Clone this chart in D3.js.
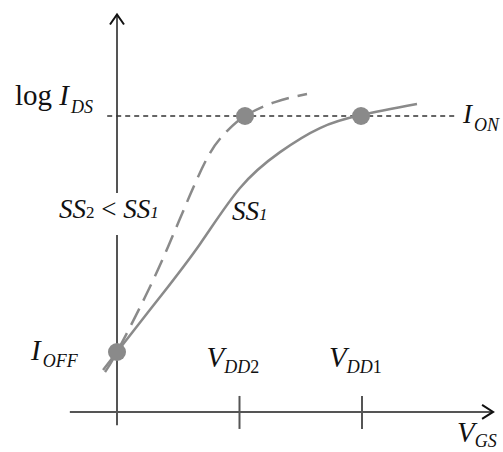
<!DOCTYPE html>
<html>
<head>
<meta charset="utf-8">
<script src="https://cdn.jsdelivr.net/npm/d3@7"></script>
<style>
  html, body { margin: 0; padding: 0; background: #fff; }
  svg { display: block; }
  text { font-family: "Liberation Serif", "Times New Roman", serif; fill: #111; }
</style>
</head>
<body>
<svg id="chart" width="503" height="452"></svg>
<script>
// ---- data (VGS in units where VDD2 = 1, VDD1 = 2; log IDS normalised: IOFF = 0, ION = 1)
const solidVgs   = [-0.114, 0, 0.351, 0.678, 1.004, 1.331, 1.657, 1.992, 2.449];
const solidLogI  = [-0.076, 0, 0.233, 0.458, 0.695, 0.847, 0.949, 1.004, 1.051];
const dashedVgs  = [-0.098, 0, 0.229, 0.416, 0.596, 0.759, 0.898, 1.045, 1.290, 1.551];
const dashedLogI = [-0.085, 0, 0.233, 0.445, 0.665, 0.843, 0.936, 1.000, 1.059, 1.093];
const markerVgs  = [0, 1.045, 1.992];
const markerLogI = [0, 1, 1];
const tickVgs    = [1, 2];
const tickMain   = ["V", "V"];
const tickSub    = ["DD2", "DD1"];

const svg = d3.select("#chart");
const x = d3.scaleLinear().domain([0, 2]).range([117, 362]);
const y = d3.scaleLinear().domain([0, 1]).range([352, 116]);

const axisColor = "#555";
const curveColor = "#8a8a8a";

// y axis
const yTop = y(1.43), yBottom = y(-0.31);
svg.append("line").attr("x1", x(0)).attr("x2", x(0)).attr("y1", yTop).attr("y2", yBottom)
  .attr("stroke", axisColor).attr("stroke-width", 2);
// x axis
const xAxisY = y(-0.254);
const xLeft = x(-0.385), xRight = x(3.07);
svg.append("line").attr("x1", xLeft).attr("x2", xRight).attr("y1", xAxisY).attr("y2", xAxisY)
  .attr("stroke", axisColor).attr("stroke-width", 2);

// arrowheads
svg.append("path").attr("d", `M${x(0)-7},${yTop+10} L${x(0)},${yTop} L${x(0)+7},${yTop+10}`)
  .attr("fill", "none").attr("stroke", "#111").attr("stroke-width", 2);
svg.append("path").attr("d", `M${xRight-11},${xAxisY-7} L${xRight},${xAxisY} L${xRight-11},${xAxisY+7}`)
  .attr("fill", "none").attr("stroke", "#111").attr("stroke-width", 2);

// ticks
svg.selectAll(".tick").data(tickVgs).enter().append("line")
  .attr("x1", d => x(d)).attr("x2", d => x(d))
  .attr("y1", xAxisY - 16).attr("y2", xAxisY + 17)
  .attr("stroke", axisColor).attr("stroke-width", 2);

// ION reference line
svg.append("line").attr("x1", x(-0.08)).attr("x2", x(2.78)).attr("y1", y(1)).attr("y2", y(1))
  .attr("stroke", "#333").attr("stroke-width", 1.5).attr("stroke-dasharray", "5,4");

// curves
const line = d3.line().x(d => x(d[0])).y(d => y(d[1])).curve(d3.curveNatural);
svg.append("path").datum(d3.zip(solidVgs, solidLogI)).attr("d", line)
  .attr("fill", "none").attr("stroke", curveColor).attr("stroke-width", 2.5);
svg.append("path").datum(d3.zip(dashedVgs, dashedLogI)).attr("d", line)
  .attr("fill", "none").attr("stroke", curveColor).attr("stroke-width", 2.5)
  .attr("stroke-dasharray", "18,9");

// markers
svg.selectAll(".dot").data(d3.zip(markerVgs, markerLogI)).enter().append("circle")
  .attr("cx", d => x(d[0])).attr("cy", d => y(d[1])).attr("r", 9).attr("fill", curveColor);

// white gap behind SS label on the y axis
svg.append("rect").attr("x", x(0) - 6).attr("y", 193).attr("width", 12).attr("height", 42).attr("fill", "#fff");

// labels
function label(xp, yp, parts) {
  const t = svg.append("text").attr("x", xp).attr("y", yp);
  parts.forEach(p => {
    const s = t.append("tspan").text(p.t).attr("font-size", p.s)
      .attr("font-style", p.i ? "italic" : "normal");
    if (p.dy) s.attr("dy", p.dy);
    if (p.dx) s.attr("dx", p.dx);
  });
  return t;
}
label(15, 105, [{t: "log ", s: 29}, {t: "I", s: 29, i: true}, {t: "DS", s: 18, i: true, dy: 8, dx: 2}]);
label(463, 123, [{t: "I", s: 27, i: true}, {t: "ON", s: 18, i: true, dy: 8, dx: 2}]);
label(31, 360, [{t: "I", s: 29, i: true}, {t: "OFF", s: 18, i: true, dy: 7, dx: 2}]);
tickVgs.forEach((d, i) => {
  label(x(d) - 33, 367, [{t: tickMain[i], s: 29, i: true}, {t: tickSub[i].slice(0, 2), s: 18, i: true, dy: 6}, {t: tickSub[i].slice(2), s: 18}]);
});
label(457, 442, [{t: "V", s: 29, i: true}, {t: "GS", s: 18, i: true, dy: 5}]);
label(59, 218, [{t: "SS", s: 27, i: true}, {t: "2", s: 17}, {t: " < ", s: 27}, {t: "SS", s: 27, i: true}, {t: "1", s: 17, i: true}]);
label(232, 220, [{t: "SS", s: 27, i: true}, {t: "1", s: 17, i: true}]);
</script>
</body>
</html>
